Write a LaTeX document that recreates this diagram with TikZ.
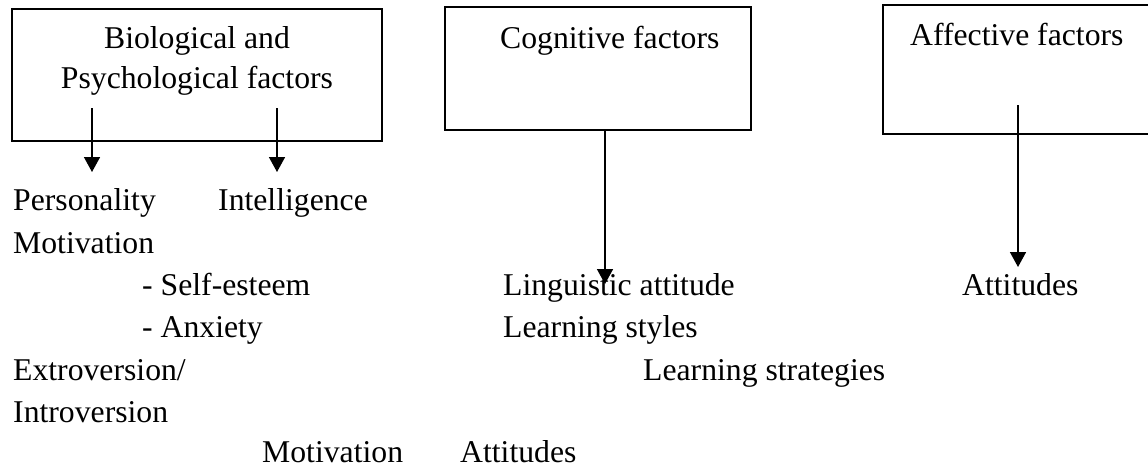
\documentclass[tikz,border=0pt]{standalone}
\usepackage{fontspec}
\setmainfont{Liberation Serif}
\usetikzlibrary{arrows.meta}
\begin{document}
\begin{tikzpicture}[x=1pt,y=-1pt,
  txt/.style={anchor=base west,inner sep=0pt,font=\fontsize{31.7}{40}\selectfont},
  ctxt/.style={anchor=base,inner sep=0pt,font=\fontsize{31.7}{40}\selectfont},
  boxline/.style={draw=black,line width=1.6pt,inner sep=0pt,outer sep=0pt,anchor=north west},
  arr/.style={line width=1.6pt,-{Triangle[width=16pt,length=15pt]}}]
\useasboundingbox (0,0) rectangle (1148,469);
\begin{scope}
\clip (0,0) rectangle (1148,469);
% boxes
\node[boxline,minimum width=370pt,minimum height=132pt] (bio) at (12,9) {};
\node[boxline,minimum width=306pt,minimum height=123pt] (cog) at (445,7) {};
\node[boxline,minimum width=300pt,minimum height=129pt] (aff) at (883,5) {};
% box titles
\node[ctxt] (bio1) at (197,48) {Biological and};
\node[ctxt] (bio2) at (197,88) {Psychological factors};
\node[txt] (cogt) at (500,48) {Cognitive factors};
\node[txt] (afft) at (910,45) {Affective factors};
% texts
\node[txt] (pers) at (13,210) {Personality};
\node[txt] (intel) at (218,210) {Intelligence};
\node[txt] (motiv) at (13,253) {Motivation};
\node[txt] (self) at (142,295) {- Self-esteem};
\node[txt] (anx) at (142,337) {- Anxiety};
\node[txt] (extro) at (13,380) {Extroversion/};
\node[txt] (intro) at (13,422) {Introversion};
\node[txt] (motiv2) at (262,462) {Motivation};
\node[txt] (att2) at (460,462) {Attitudes};
\node[txt] (ling) at (503,295) {Linguistic attitude};
\node[txt] (lsty) at (503,337) {Learning styles};
\node[txt] (lstr) at (643,380) {Learning strategies};
\node[txt] (att1) at (962,295) {Attitudes};
% arrows
\coordinate (a1s) at (92,108);
\coordinate (a1e) at (92,172);
\coordinate (a2s) at (277,108);
\coordinate (a2e) at (277,172);
\coordinate (a3s) at (605,130);
\coordinate (a3e) at (605,284);
\coordinate (a4s) at (1018,105);
\coordinate (a4e) at (1018,267);
\draw[arr] (a1s) -- (a1e);
\draw[arr] (a2s) -- (a2e);
\draw[arr] (a3s) -- (a3e);
\draw[arr] (a4s) -- (a4e);
\end{scope}
\end{tikzpicture}
\end{document}
